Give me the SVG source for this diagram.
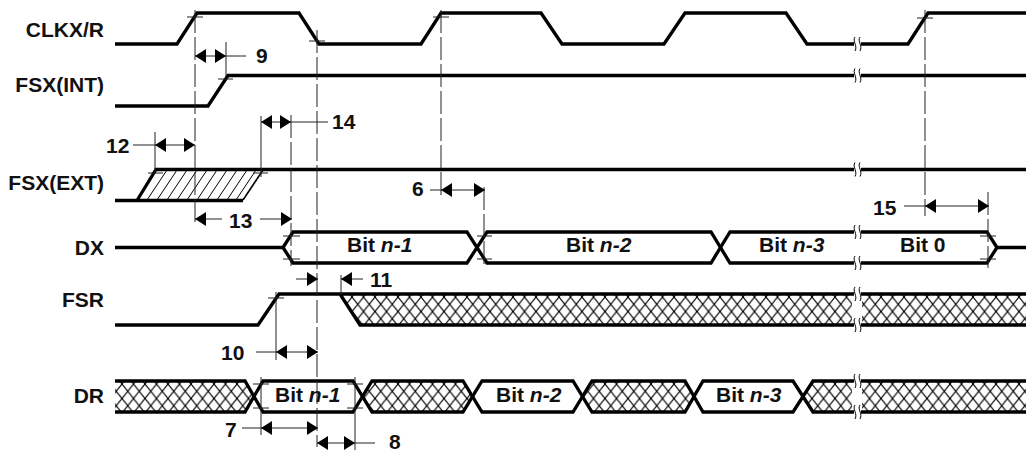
<svg xmlns="http://www.w3.org/2000/svg" xmlns:xlink="http://www.w3.org/1999/xlink" width="1026" height="451" viewBox="0 0 1026 451">
<style>
text{font-family:"Liberation Sans",Arial,sans-serif;font-weight:700;font-size:21px;fill:#111}
.lb{text-anchor:end}
tspan{font-style:italic}
.w{fill:none;stroke:#000;stroke-width:3.3;stroke-linejoin:miter}
.t{fill:none;stroke:#000;stroke-width:1}
.g{fill:none;stroke:#222;stroke-width:1;stroke-dasharray:23 4}
.s{fill:none;stroke:#222;stroke-width:1}
.x{fill:url(#xh);stroke:none}
</style>
<defs>
<pattern id="xh" patternUnits="userSpaceOnUse" x="122" y="297" width="11.500" height="14.5">
<path d="M0,0L11.500,14.5M11.500,0L0,14.5" stroke="#000" stroke-width="1.100" fill="none"/>
</pattern>
<marker id="ah" viewBox="0 0 11 14" refX="11" refY="7" markerWidth="11" markerHeight="14" markerUnits="userSpaceOnUse" orient="auto-start-reverse">
<path d="M0,0L11,7L0,14Z" fill="#000"/>
</marker>
<g id="brk">
<rect x="-3" y="-3" width="7" height="6" fill="#fff"/>
<path d="M-2,-7C-5,-3 1,2 -2,7M3,-7C0,-3 6,2 3,7" fill="none" stroke="#000" stroke-width="1"/>
</g>
</defs>

<g id="sig-clk">
<text class="lb" x="104" y="37">CLKX/R</text>
<path class="w" d="M115,44H177L197,13H299L319,44H421L441,13H541L562,44H664L685,13H786L807,44H908L928,13H1026"/>
<use xlink:href="#brk" href="#brk" x="857" y="44"/>
</g>
<g id="sig-fsxint">
<text class="lb" x="104" y="92">FSX(INT)</text>
<path class="w" d="M115,106H208L228,75.500H1026"/>
<use xlink:href="#brk" href="#brk" x="857" y="75.500"/>
</g>
<g id="sig-fsxext">
<text class="lb" x="104" y="190">FSX(EXT)</text>
<path class="t" d="M147,200L167,170M157,200L177,170M167,200L187,170M177,200L197,170M187,200L207,170M197,200L217,170M207,200L227,170M217,200L237,170M227,200L247,170M236,200L256,170"/>
<path class="t" style="stroke-width:1.600" d="M243,200L263,170"/>
<path class="w" d="M115,200.500H243M137,200.500L156,169.500H1026"/>
<use xlink:href="#brk" href="#brk" x="857" y="169.500"/>
</g>
<g id="sig-dx">
<text class="lb" x="104" y="255">DX</text>
<path class="w" d="M115,247.500H283L293,232H467L487,263H711L730,232H987L997,247.500H1026"/>
<path class="w" d="M283,247.500L293,263H467L487,232H711L730,263H987L997,247.500"/>
<use xlink:href="#brk" href="#brk" x="857" y="232"/>
<use xlink:href="#brk" href="#brk" x="857" y="263"/>
<text x="347" y="252">Bit <tspan>n-1</tspan></text>
<text x="566" y="252">Bit <tspan>n-2</tspan></text>
<text x="759" y="252">Bit <tspan>n-3</tspan></text>
<text x="900" y="252">Bit 0</text>
</g>
<g id="sig-fsr">
<text class="lb" x="104" y="307">FSR</text>
<path class="x" d="M340,294H852V325H360ZM862,294H1026V325H862Z"/>
<path class="w" d="M115,325H258L279,294H1026M340,294L360,325H1026"/>
<use xlink:href="#brk" href="#brk" x="857" y="294"/>
<use xlink:href="#brk" href="#brk" x="857" y="325"/>
</g>
<g id="sig-dr">
<text class="lb" x="104" y="403">DR</text>
<path class="x" d="M115,381H245L254,396.500L245,412H115ZM363,396.500L372,381H463L472,396.500L463,412H372ZM582,396.500L592,381H685L694,396.500L685,412H592ZM803,396.500L813,381H852V412H813ZM862,381H1026V412H862Z"/>
<path class="w" d="M115,381H245L263,412H353L372,381H463L482,412H573L592,381H685L703,412H793L813,381H1026"/>
<path class="w" d="M115,412H245L263,381H353L372,412H463L482,381H573L592,412H685L703,381H793L813,412H1026"/>
<use xlink:href="#brk" href="#brk" x="857" y="381"/>
<use xlink:href="#brk" href="#brk" x="857" y="412"/>
<text x="275" y="402">Bit <tspan>n-1</tspan></text>
<text x="496" y="402">Bit <tspan>n-2</tspan></text>
<text x="716" y="402">Bit <tspan>n-3</tspan></text>
</g>

<g id="connectors">
<path class="g" d="M195,10V224M317,30V447M441,10V198M925,10V216M291,115V266M484,187V266M988,192V268"/>
<path class="s" d="M226,42V77M261,116V177M155,132V174M276,292V360M341,275V295M261,377V435M355,377V450"/>
<path class="s" d="M187,17H203M309,41H325M218,79H233M148,173H163M253,173H268M433,17H449M917,18H933M283,236H300M283,259H300M477,236H492M477,259H492M980,236H996M980,259H996M268,298H284M253,384H269M253,408H269M347,384H363M347,408H363"/>
<path class="s" d="M195,56H226" marker-start="url(#ah)" marker-end="url(#ah)"/>
<path class="s" d="M155,145H195" marker-start="url(#ah)" marker-end="url(#ah)"/>
<path class="s" d="M261,122H291" marker-start="url(#ah)" marker-end="url(#ah)"/>
<path class="s" d="M441,190H485" marker-start="url(#ah)" marker-end="url(#ah)"/>
<path class="s" d="M925,206H989" marker-start="url(#ah)" marker-end="url(#ah)"/>
<path class="s" d="M276,352H318" marker-start="url(#ah)" marker-end="url(#ah)"/>
<path class="s" d="M261,428H318" marker-start="url(#ah)" marker-end="url(#ah)"/>
<path class="s" d="M317,443H355" marker-start="url(#ah)" marker-end="url(#ah)"/>
<path class="s" d="M195,219H222" marker-start="url(#ah)"/>
<path class="s" d="M260,219H292" marker-end="url(#ah)"/>
<path class="s" d="M296,279H318" marker-end="url(#ah)"/>
<path class="s" d="M363,279H341" marker-end="url(#ah)"/>
<path class="s" d="M226,56H246M133,145H155M291,122H328M430,190H441M904,206H925M256,352H276M242,428H261M355,443H375"/>
</g>
<g id="timing-labels">
<text x="256" y="63">9</text>
<text x="106" y="153">12</text>
<text x="332" y="129">14</text>
<text x="229" y="228">13</text>
<text x="412" y="196">6</text>
<text x="873" y="215">15</text>
<text x="370" y="287">11</text>
<text x="221" y="360">10</text>
<text x="225" y="437">7</text>
<text x="389" y="449">8</text>
</g>
</svg>
